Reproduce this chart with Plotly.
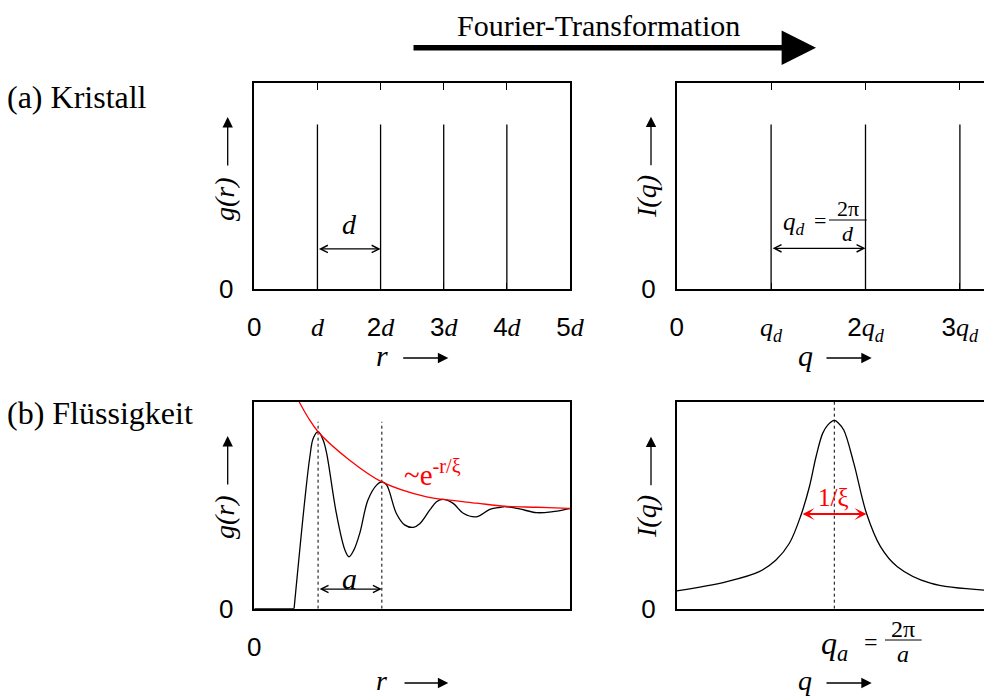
import plotly.graph_objects as go

W, H = 984, 698
SERIF = "Liberation Serif"
SANS = "Liberation Sans"
RED = "#ff0000"

# ---------------- data ----------------
# (a) crystal: delta peaks
crystal_r = [1, 2, 3, 4]          # in units of d
crystal_q = [1, 2, 3]             # in units of q_d
peak_height = 0.8

r_ticks = [0, 1, 2, 3, 4, 5]
r_ticktext = ["0", "<span style='font-family:Liberation Serif'><i>d</i></span>",
              "2<span style='font-family:Liberation Serif'><i>d</i></span>",
              "3<span style='font-family:Liberation Serif'><i>d</i></span>",
              "4<span style='font-family:Liberation Serif'><i>d</i></span>",
              "5<span style='font-family:Liberation Serif'><i>d</i></span>"]
q_ticks = [0, 1, 2, 3]
q_ticktext = ["0", "<span style='font-family:Liberation Serif'><i>q<sub>d</sub></i></span>",
              "2<span style='font-family:Liberation Serif'><i>q<sub>d</sub></i></span>",
              "3<span style='font-family:Liberation Serif'><i>q<sub>d</sub></i></span>"]

# (b) liquid: pair correlation g(r)
flat_r = [0.0, 0.63]
flat_g = [0.0, 0.0]
liquid_r = [0.63, 0.80, 0.88, 0.934, 1.01, 1.09, 1.146, 1.30, 1.435, 1.50, 1.578, 1.67, 1.80,
            1.94, 2.02, 2.095, 2.25, 2.38, 2.52, 2.62, 2.78, 2.886, 2.99, 3.15, 3.31, 3.52,
            3.73, 3.89, 3.97, 4.20, 4.47, 4.73, 4.97, 5.0]
liquid_g = [0.0, 0.525, 0.734, 0.823, 0.855, 0.815, 0.75, 0.46, 0.284, 0.251, 0.284, 0.364,
            0.525, 0.598, 0.613, 0.598, 0.46, 0.405, 0.393, 0.41, 0.477, 0.517, 0.528, 0.509,
            0.461, 0.444, 0.48, 0.49, 0.493, 0.482, 0.464, 0.469, 0.482, 0.483]
# envelope ~ exp(-r/xi)
env_r = [0.71, 0.85, 1.01, 1.5, 2.02, 2.73, 2.99, 3.52, 3.97, 4.47, 4.97, 5.0]
env_g = [1.0, 0.925, 0.855, 0.72, 0.613, 0.54, 0.528, 0.51, 0.495, 0.49, 0.485, 0.485]
peak_r = [1.01, 2.02]
peak_line_top = 0.903

# structure factor I(q), q in units of q_a
lor_q = [0.0, 0.313, 0.524, 0.63, 0.715, 0.789, 0.842, 0.884, 0.926, 0.958, 1.0, 1.027,
         1.06, 1.124, 1.204, 1.293, 1.40, 1.61, 1.95]
lor_I = [0.086, 0.13, 0.179, 0.235, 0.316, 0.453, 0.589, 0.734, 0.847, 0.887, 0.91, 0.896,
         0.863, 0.702, 0.461, 0.30, 0.203, 0.123, 0.09]
q_peak = 1.0
fwhm_left, fwhm_right, fwhm_level = 0.789, 1.204, 0.457


def px(x):
    return x / W


def py(y):
    return 1 - y / H


def spikes(xs, h):
    X, Y = [], []
    for x in xs:
        X += [x, x, None]
        Y += [0, h, None]
    return X, Y


fig = go.Figure()
line_k = dict(color="black", width=1.3)
spl = dict(shape="spline", smoothing=1.0, width=1.3)

X, Y = spikes(crystal_r, peak_height)
fig.add_trace(go.Scatter(x=X, y=Y, mode="lines", line=line_k, xaxis="x", yaxis="y"))
X, Y = spikes(crystal_q, peak_height)
fig.add_trace(go.Scatter(x=X, y=Y, mode="lines", line=line_k, xaxis="x2", yaxis="y2"))

# liquid g(r)
X, Y = spikes(peak_r, peak_line_top)
fig.add_trace(go.Scatter(x=X, y=Y, mode="lines", line=dict(color="black", width=1, dash="dot"),
                         xaxis="x3", yaxis="y3"))
fig.add_trace(go.Scatter(x=flat_r, y=flat_g, mode="lines", line=line_k, xaxis="x3", yaxis="y3"))
fig.add_trace(go.Scatter(x=liquid_r, y=liquid_g, mode="lines", line=dict(color="black", **spl),
                         xaxis="x3", yaxis="y3"))
fig.add_trace(go.Scatter(x=env_r, y=env_g, mode="lines", line=dict(color=RED, **spl),
                         xaxis="x3", yaxis="y3"))

# I(q)
fig.add_trace(go.Scatter(x=[q_peak, q_peak], y=[0, 1], mode="lines", line=dict(color="black", width=1, dash="dot"),
                         xaxis="x4", yaxis="y4"))
fig.add_trace(go.Scatter(x=lor_q, y=lor_I, mode="lines", line=dict(color="black", **spl),
                         xaxis="x4", yaxis="y4"))

# ---------------- axes ----------------
xl, xr = px(254.3), px(570)
xl2, xr2 = px(676.7), 1.0
yt_b, yt_t = py(289.3), py(83.3)
yb_b, yb_t = py(608.7), py(401.7)

tickfont = dict(family=SANS, size=26, color="black")
common = dict(showgrid=False, zeroline=False, showline=True, linecolor="black", linewidth=1.5,
              tickfont=tickfont, fixedrange=True)

fig.update_layout(
    width=W, height=H, margin=dict(l=0, r=0, t=0, b=0, autoexpand=False),
    paper_bgcolor="white", plot_bgcolor="white", showlegend=False,
    xaxis=dict(domain=[xl, xr], range=[0, 5], anchor="y", mirror="ticks", ticks="inside",
               ticklen=7, tickcolor="black", tickwidth=1, tickvals=r_ticks, ticktext=r_ticktext,
               ticklabelstandoff=14, **common),
    yaxis=dict(domain=[yt_b, yt_t], range=[0, 1], anchor="x", mirror=True, ticks="",
               tickvals=[0], ticktext=["0"], ticklabelstandoff=14, **common),
    xaxis2=dict(domain=[xl2, xr2], range=[0, (984 - 676.7) / 94.4], anchor="y2", mirror="ticks", ticks="inside",
                ticklen=7, tickcolor="black", tickwidth=1, tickvals=q_ticks, ticktext=q_ticktext,
                ticklabelstandoff=14, **common),
    yaxis2=dict(domain=[yt_b, yt_t], range=[0, 1], anchor="x2", mirror=False, ticks="",
                tickvals=[0], ticktext=["0"], ticklabelstandoff=14, **common),
    xaxis3=dict(domain=[xl, xr], range=[0, 5], anchor="y3", mirror=True, ticks="",
                tickvals=[0], ticktext=["0"], ticklabelstandoff=14, **common),
    yaxis3=dict(domain=[yb_b, yb_t], range=[0, 1], anchor="x3", mirror=True, ticks="",
                tickvals=[0], ticktext=["0"], ticklabelstandoff=14, **common),
    xaxis4=dict(domain=[xl2, xr2], range=[0, (984 - 676.7) / 157.6], anchor="y4", mirror=True, ticks="",
                tickvals=[], **common),
    yaxis4=dict(domain=[yb_b, yb_t], range=[0, 1], anchor="x4", mirror=False, ticks="",
                tickvals=[0], ticktext=["0"], ticklabelstandoff=14, **common),
)

ann = []
shapes = []


def text(x, y, t, size, family=SERIF, color="black", angle=0, xanchor="center"):
    ann.append(dict(x=px(x), y=py(y), xref="paper", yref="paper", text=t, showarrow=False,
                    font=dict(family=family, size=size, color=color), textangle=angle,
                    xanchor=xanchor, yanchor="middle", borderpad=0))


def parrow(x0, y0, x1, y1, width=1.3, head=2, size=1.0):
    # arrow from (x0,y0) to (x1,y1) in pixels
    ann.append(dict(x=px(x1), y=py(y1), xref="paper", yref="paper", ax=x0 - x1, ay=y0 - y1,
                    axref="pixel", ayref="pixel", text="", showarrow=True, arrowhead=head,
                    arrowsize=size, arrowwidth=width, arrowcolor="black"))


def darrow(xa, ya, x0, x1, y, color="black", head=5, width=1.2, size=1.2):
    ann.append(dict(x=x1, y=y, xref=xa, yref=ya, ax=x0, ay=y, axref=xa, ayref=ya, text="",
                    showarrow=True, arrowside="end+start", arrowhead=head, startarrowhead=head,
                    arrowsize=size, startarrowsize=size, arrowwidth=width, arrowcolor=color))


# header
text(598, 25, "Fourier-Transformation", 30)
parrow(412, 47.7, 816, 47.7, width=5.5, head=2, size=1.25)
text(6, 97, "(a) Kristall", 32, xanchor="left")
text(6, 413, "(b) Flüssigkeit", 32, xanchor="left")

# y labels with arrows
for (xc, yc, lab, xa, ya0, ya1) in [
    (224, 199, "<i>g(r)</i>", 227.7, 167, 117),
    (646, 197, "<i>I(q)</i>", 651, 166.7, 116.7),
    (224, 517, "<i>g(r)</i>", 227.7, 486, 436),
    (646, 517, "<i>I(q)</i>", 651, 486.7, 436.7),
]:
    text(xc, yc, lab, 28, angle=-90)
    parrow(xa, ya0, xa, ya1, width=1.3, head=2, size=1.6)

# x labels with arrows
for (xc, yc, lab, a0, a1, fs) in [
    (381.7, 355, "<i>r</i>", 401.7, 448.3, 30),
    (805, 355, "<i>q</i>", 825, 871.7, 30),
    (381.7, 680, "<i>r</i>", 403, 448.3, 28),
    (805, 680, "<i>q</i>", 825, 871.7, 28),
]:
    text(xc, yc, lab, fs)
    parrow(a0, yc + 3, a1, yc + 3, width=1.3, head=2, size=1.6)

# (a) left: d
darrow("x", "y", crystal_r[0], crystal_r[1], 0.196)
text(349, 224, "<i>d</i>", 28)

# (a) right: q_d = 2pi/d
darrow("x2", "y2", crystal_q[0], crystal_q[1], 0.199)
text(794, 223, "<i>q<sub>d</sub></i>", 25)
text(820, 221, "=", 22)
text(847.7, 209, "2π", 22)
text(847.7, 233, "<i>d</i>", 22)
shapes.append(dict(type="line", xref="paper", yref="paper", x0=px(829), x1=px(866.7), y0=py(220), y1=py(220),
                   line=dict(color="black", width=1)))

# (b) left: a and envelope label
darrow("x3", "y3", peak_r[0], peak_r[1], 0.095)
text(349, 578, "<i>a</i>", 30)
text(403, 473, "~e<sup>-r/ξ</sup>", 29, color=RED, xanchor="left")

# (b) right: 1/xi and q_a = 2pi/a
darrow("x4", "y4", fwhm_left, fwhm_right, fwhm_level, color=RED, head=3, width=2, size=1.0)
text(833, 497, "1/ξ", 25, color=RED)
text(834, 645, "<i>q<sub>a</sub></i>", 32)
text(871, 642, "=", 24)
text(903, 629, "2π", 24)
text(903, 654, "<i>a</i>", 24)
shapes.append(dict(type="line", xref="paper", yref="paper", x0=px(885), x1=px(921.7), y0=py(640), y1=py(640),
                   line=dict(color="black", width=1)))

fig.update_layout(annotations=ann, shapes=shapes)
fig.write_html(
    "out.html",
    post_script=("document.documentElement.style.overflow='hidden';"
                 "document.body.style.margin='0';document.body.style.overflow='hidden';"),
)
